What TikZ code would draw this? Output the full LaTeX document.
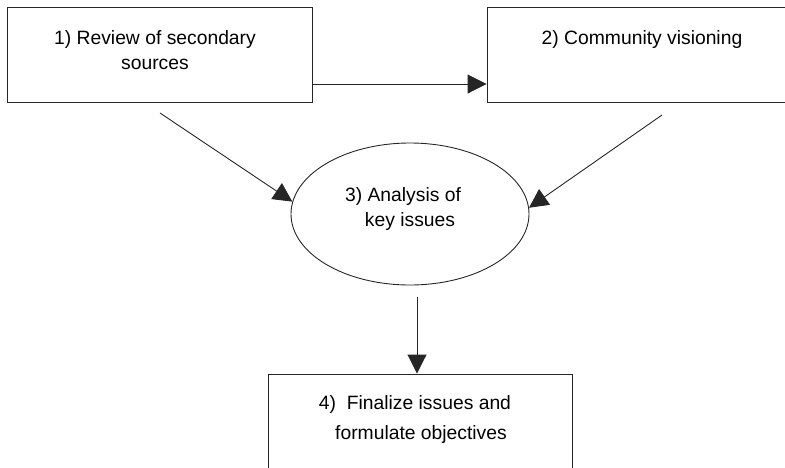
\documentclass[tikz,border=0pt]{standalone}
\usepackage{fontspec}
\setmainfont{Liberation Sans}
\usetikzlibrary{arrows.meta,shapes.geometric}
\begin{document}
\begin{tikzpicture}[x=1pt,y=-1pt,
  shp/.style={draw=black!85,line width=0.9pt,inner sep=0pt},
  boxshape/.style={shp,rectangle},
  txt/.style={align=center,inner sep=0pt,font=\fontsize{19.3pt}{25pt}\selectfont},
  arr/.style={draw=black!85,line width=0.9pt,-{Triangle[length=19pt,width=19pt]}}]
\useasboundingbox (0,0) rectangle (785,467);
\clip (0,0) rectangle (785,467);
% shapes
\node[boxshape,minimum width=305pt,minimum height=95pt] (box1) at (159.5,54.5) {};
\node[boxshape,minimum width=313pt,minimum height=95pt] (box2) at (643.5,54.5) {};
\node[shp,ellipse,minimum width=238pt,minimum height=142pt] (ell) at (410,214) {};
\node[boxshape,minimum width=304pt,minimum height=120pt] (box4) at (420,434) {};
% texts
\node[txt] (t1) at (155,50) {1) Review of secondary\\sources};
\node[txt] (t2) at (642,40) {2) Community visioning};
\node[txt] (t3) at (403,209.5) {3) Analysis of\\\hspace*{14pt}key issues};
\node[txt] (t4) at (415,420) {4)\ \ Finalize issues and\\[5pt]\hspace*{12pt}formulate objectives};
% connectors
\coordinate (s1) at (160,113);
\coordinate (s2) at (662,115);
\coordinate (s3) at (417,297);
\draw[arr] (box1.east |- 0,84) -- (box2.west |- 0,84);
\draw[arr] (s1) -- (ell.174);
\draw[arr] (s2) -- (ell.3);
\draw[arr] (s3) -- (s3 |- box4.north);
\end{tikzpicture}
\end{document}
